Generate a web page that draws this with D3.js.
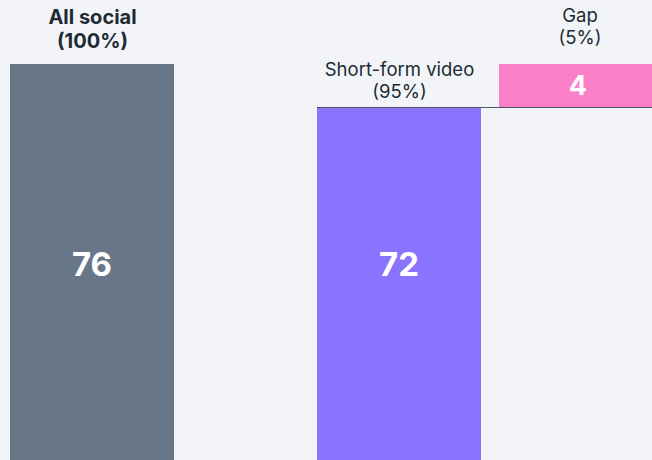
<!DOCTYPE html>
<html lang="en">
<head>
  <meta charset="UTF-8">
  <title>Short-form video share of social</title>
  <script src="https://d3js.org/d3.v7.min.js"></script>
  <style>
    html, body { margin: 0; padding: 0; background: #f3f4f8; overflow: hidden; }
    svg { display: block; font-family: Inter, "Noto Sans", sans-serif; }
  </style>
</head>
<body>
  <svg id="chart"></svg>

  <script>
    const width = 652, height = 460;

    // data
    const categories = ["All social", "Short-form video", "Gap"];
    const shares = ["100%", "95%", "5%"];
    const values = [76, 72, 4];
    const colors = ["#677788", "#8a74fe", "#fb80c7"];

    const svg = d3.select("#chart").attr("width", width).attr("height", height);

    // bars start at the same baseline (off-screen), gap sits on top of short-form
    const bases = [0, 0, values[1]];

    const y = d3.scaleLinear().domain([0, 76]).range([881, 64]);
    const x = d3.scaleOrdinal().domain(categories).range([10, 317, 499]);
    const w = d3.scaleOrdinal().domain(categories).range([164, 164, 160]);

    const rows = categories.map((c, i) => ({ cat: c, share: shares[i], value: values[i], base: bases[i], color: colors[i] }));

    svg.selectAll("rect.bar").data(rows).join("rect")
      .attr("class", "bar")
      .attr("x", d => x(d.cat))
      .attr("width", d => w(d.cat))
      .attr("y", d => y(d.base + d.value))
      .attr("height", d => y(d.base) - y(d.base + d.value))
      .attr("fill", d => d.color);

    // connector line at top of short-form bar
    svg.append("line")
      .attr("x1", x("Short-form video")).attr("x2", width)
      .attr("y1", y(values[1]) + 0.5).attr("y2", y(values[1]) + 0.5)
      .attr("stroke", "#4a5560").attr("stroke-width", 1.2);

    // value labels
    svg.selectAll("text.val").data(rows).join("text")
      .attr("class", "val")
      .attr("x", d => x(d.cat) + w(d.cat) / 2 + (d.cat === "Gap" ? -1 : 0))
      .attr("y", d => d.cat === "Gap" ? (y(d.base + d.value) + y(d.base)) / 2 : 264)
      .attr("dy", "0.36em")
      .attr("text-anchor", "middle")
      .attr("fill", "#fff")
      .attr("font-weight", 700)
      .attr("font-size", d => d.cat === "Gap" ? 27 : 33)
      .text(d => d.value);

    // category labels above bars
    const labelX = { "All social": 92.5, "Short-form video": 399.5, "Gap": 580 };
    const labelY = { "All social": 24, "Short-form video": 76, "Gap": 22 };

    const labels = svg.selectAll("text.cat").data(rows).join("text")
      .attr("class", "cat")
      .attr("text-anchor", "middle")
      .attr("fill", "#1c2b33")
      .attr("font-size", d => d.cat === "All social" ? 20 : 18.5)
      .attr("font-weight", d => d.cat === "All social" ? 700 : 400)
      .attr("transform", d => `translate(${labelX[d.cat]},${labelY[d.cat]})`);

    labels.append("tspan").attr("x", 0).attr("y", 0).text(d => d.cat);
    labels.append("tspan").attr("x", 0)
      .attr("y", d => d.cat === "All social" ? 24 : 21.5)
      .text(d => `(${d.share})`);
  </script>
</body>
</html>
